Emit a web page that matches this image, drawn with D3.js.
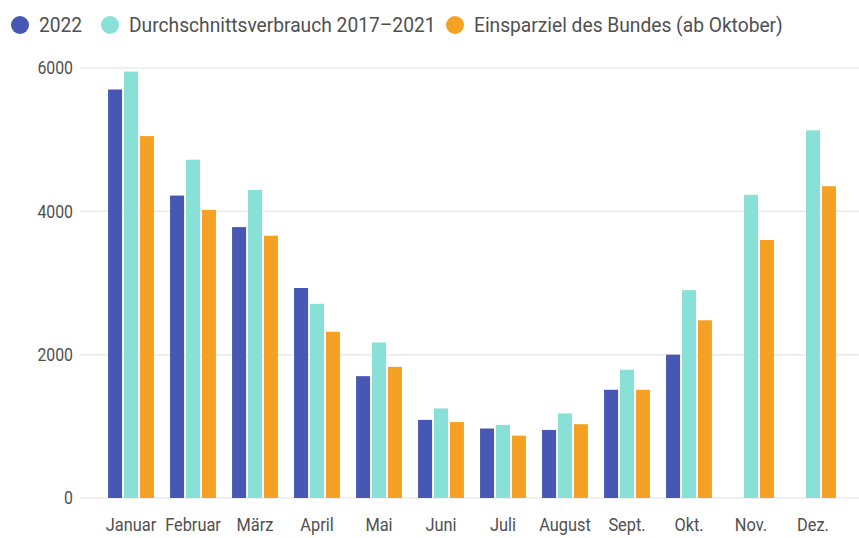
<!DOCTYPE html>
<html><head><meta charset="utf-8">
<script src="https://cdn.jsdelivr.net/npm/d3@7"></script>
<style>
body{margin:0;background:#fff;}
text{font-family:Roboto,"Noto Sans",sans-serif;fill:#505050;}
</style></head>
<body><svg id="c" width="859" height="538"></svg>
<script>
const months = ["Januar","Februar","März","April","Mai","Juni","Juli","August","Sept.","Okt.","Nov.","Dez."];
const seriesNames = ["2022","Durchschnittsverbrauch 2017–2021","Einsparziel des Bundes (ab Oktober)"];
const values2022 = [5700,4220,3780,2930,1700,1090,970,950,1510,2000,null,null];
const valuesAvg = [5950,4720,4300,2710,2170,1250,1020,1180,1790,2900,4230,5130];
const valuesTarget = [5050,4020,3660,2320,1830,1060,870,1030,1510,2480,3600,4350];
const yTicks = [0,2000,4000,6000];
const colors = ["#4757b4","#89e0d7","#f5a123"];

const svg = d3.select("#c");
const series = [values2022, valuesAvg, valuesTarget];

const x = d3.scaleBand().domain(months).range([100,844]).paddingInner(0.26).paddingOuter(0.13);
const xs = d3.scaleBand().domain([0,1,2]).range([0,x.bandwidth()]).paddingInner(0.12);
const y = d3.scaleLinear().domain([0,6000]).range([498,68]);

// gridlines
svg.append("g").selectAll("line").data(yTicks).join("line")
  .attr("x1",80).attr("x2",859).attr("y1",d=>y(d)).attr("y2",d=>y(d))
  .attr("stroke","#ebebeb").attr("stroke-width",1.5);

// y axis labels
const yAxis = d3.axisLeft(y).tickValues(yTicks).tickSize(0).tickPadding(0).tickFormat(d3.format("d"));
const ya = svg.append("g").attr("transform","translate(73,0)").call(yAxis);
ya.select(".domain").remove();
ya.selectAll("text").style("font-size","18px").attr("fill","#505050").attr("x",0)
  .attr("transform","scale(0.88,1)");

// bars
const g = svg.append("g");
series.forEach((vals,si)=>{
  g.append("g").selectAll("rect").data(months.map((m,i)=>({m,v:vals[i]})).filter(d=>d.v!=null)).join("rect")
    .attr("x",d=>x(d.m)+xs(si)).attr("width",xs.bandwidth())
    .attr("y",d=>y(d.v)).attr("height",d=>y(0)-y(d.v))
    .attr("fill",colors[si]);
});

// x axis labels
const xAxis = d3.axisBottom(x).tickSize(0).tickPadding(0);
const xa = svg.append("g").attr("transform","translate(0,518)").call(xAxis);
xa.select(".domain").remove();
xa.selectAll("text").style("font-size","18px").attr("fill","#505050").attr("dy","0.71em")
  .attr("transform","scale(0.91,1)");

// legend
const legX = [20,110,455];
const leg = svg.append("g");
seriesNames.forEach((n,i)=>{
  leg.append("circle").attr("cx",legX[i]).attr("cy",25).attr("r",9).attr("fill",colors[i]);
  leg.append("text").attr("transform",`translate(${legX[i]+19},25) scale(0.915,1)`).attr("dy","0.35em")
    .style("font-size","21px").text(n);
});
</script></body></html>
